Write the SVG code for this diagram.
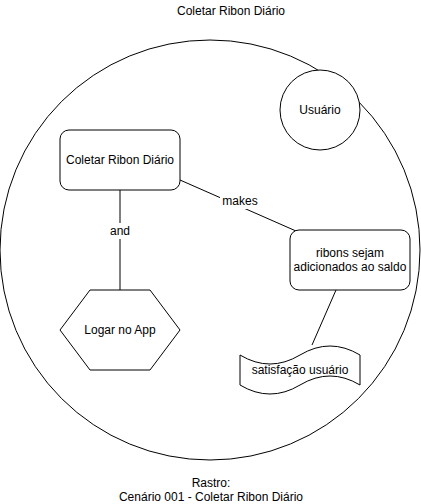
<svg xmlns="http://www.w3.org/2000/svg" width="421" height="504" viewBox="0 0 421 504">
<style>
.s{fill:#fff;stroke:#000;stroke-width:1}
.l{fill:none;stroke:#000;stroke-width:1}
text{font-family:"Liberation Sans",Arial,sans-serif;font-size:12px;fill:#000;text-anchor:middle}
</style>
<rect width="421" height="504" fill="#fff"/>
<g id="title"><text x="231" y="15">Coletar Ribon Diário</text></g>
<g id="boundary"><circle class="s" cx="210" cy="250" r="210"/></g>
<g id="connectors">
<line class="l" x1="120" y1="190" x2="120" y2="290"/>
<line class="l" x1="180" y1="180" x2="296" y2="231"/>
<line class="l" x1="336" y1="290" x2="312" y2="345"/>
<rect x="108" y="223" width="24" height="16" fill="#fff"/>
<text x="120" y="235">and</text>
<rect x="220" y="193" width="40" height="16" fill="#fff"/>
<text x="240" y="205">makes</text>
</g>
<g id="usuario"><circle class="s" cx="320" cy="110" r="40"/><text x="320" y="114">Usuário</text></g>
<g id="coletar"><rect class="s" x="60" y="130" width="120" height="60" rx="9"/><text x="120" y="164">Coletar Ribon Diário</text></g>
<g id="ribons"><rect class="s" x="290" y="230" width="120" height="60" rx="9"/><text x="350" y="257">ribons sejam</text><text x="350" y="271">adicionados ao saldo</text></g>
<g id="logar"><polygon class="s" points="90,290 150,290 180,330 150,370 90,370 60,330"/><text x="120" y="334">Logar no App</text></g>
<g id="satisfacao"><path class="s" d="M240,355 Q270,373 300,355 Q330,337 360,355 L360,385 Q330,367 300,385 Q270,403 240,385 Z"/><text x="300" y="374">satisfação usuário</text></g>
<g id="rastro"><text x="211" y="487">Rastro:</text><text x="211" y="501">Cenário 001 - Coletar Ribon Diário</text></g>
</svg>
